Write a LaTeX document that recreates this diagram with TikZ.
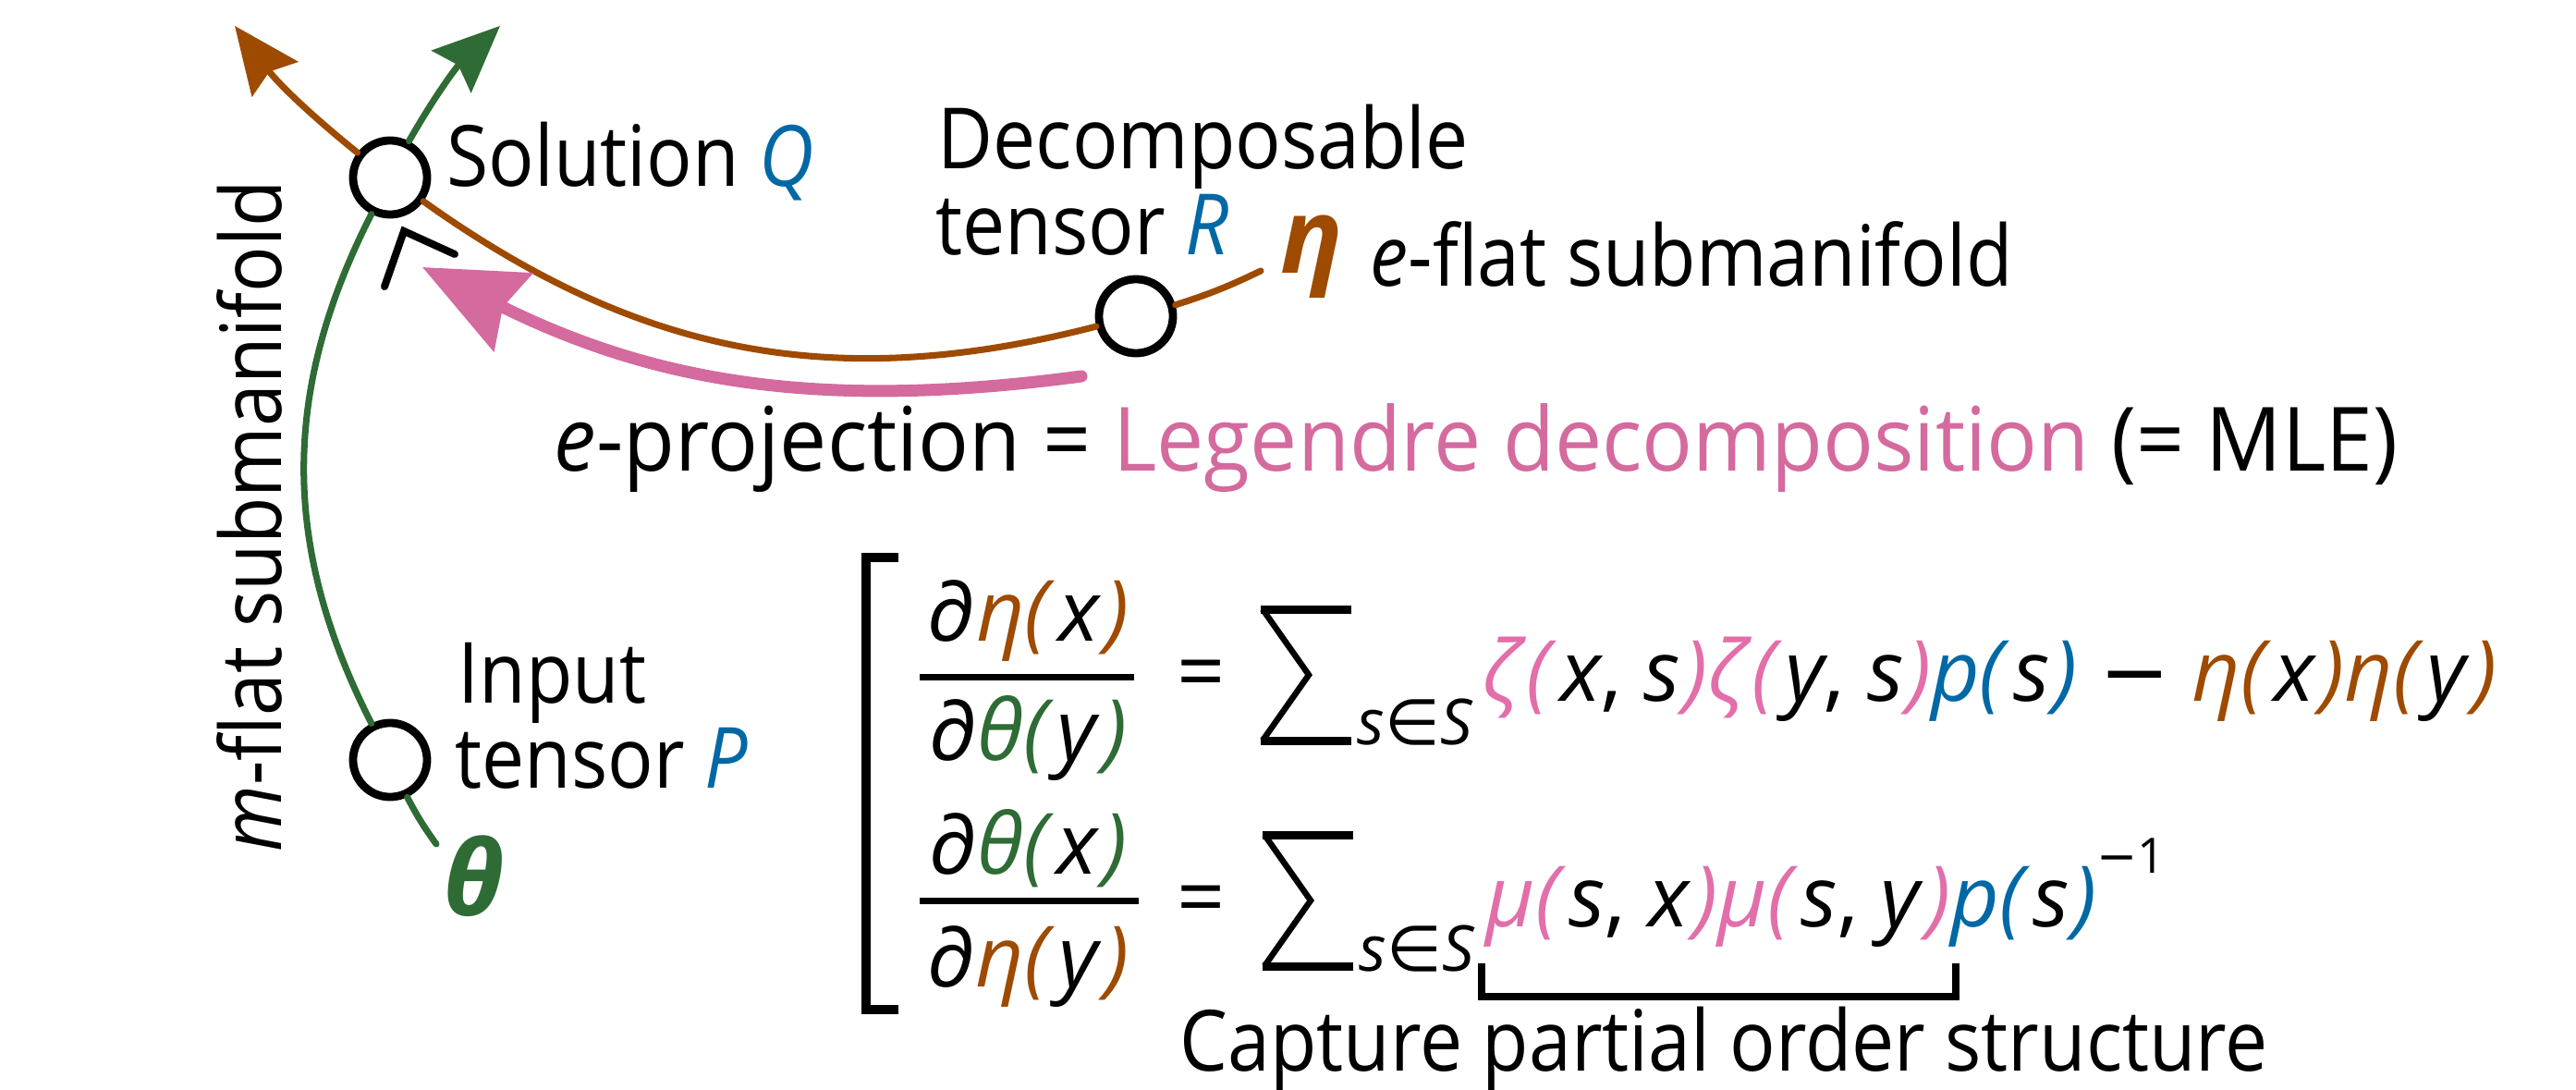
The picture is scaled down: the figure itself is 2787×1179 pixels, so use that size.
\documentclass[tikz,border=0pt]{standalone}
\usepackage{fontspec}
\setmainfont[FakeStretch=0.9]{Open Sans}
\newfontfamily\mathfont{Open Sans}
\newfontfamily\midfont[FakeStretch=0.95]{Open Sans}
\newfontfamily\symf{DejaVu Sans}
\usetikzlibrary{arrows.meta}
\definecolor{cbrown}{HTML}{9E4A00}
\definecolor{cgreen}{HTML}{2E6B35}
\definecolor{cblue}{HTML}{0068A5}
\definecolor{cpink}{HTML}{D46A9E}
\definecolor{cpinkm}{HTML}{E26EAA}
\newcommand\cbr[1]{\textcolor{cbrown}{#1}}
\newcommand\cgr[1]{\textcolor{cgreen}{#1}}
\newcommand\cbl[1]{\textcolor{cblue}{#1}}
\newcommand\cpk[1]{\textcolor{cpinkm}{#1}}
\newcommand\iv[1]{\textit{#1}}
\newcommand\pd{\textit{∂}}
\newcommand\mns{{\symf −}}
% function application with coloured, slightly spaced parentheses
\newcommand\fa[3]{\textcolor{#1}{\iv{#2}\iv{(}}\kern1pt#3\kern1pt\textcolor{#1}{\iv{)}}}
\begin{document}
\begin{tikzpicture}[x=0.01cm,y=0.01cm,
  txt/.style={inner sep=0pt, font=\fontsize{26}{31}\selectfont},
  bigtxt/.style={inner sep=0pt, font=\midfont\fontsize{27.3}{32}\selectfont},
  mth/.style={inner sep=0pt, font=\mathfont\fontsize{26}{31}\selectfont},
  sub/.style={inner sep=0pt, font=\mathfont\fontsize{19.5}{23}\selectfont},
  lbl/.style={inner sep=0pt, font=\mathfont\fontsize{32}{38}\selectfont\bfseries\itshape},
  dot/.style={circle, draw=black, fill=white, line width=2.5pt, minimum size=0.8cm, inner sep=0pt},
  brownline/.style={draw=cbrown, line width=2pt, line cap=round},
  greenline/.style={draw=cgreen, line width=2pt, line cap=round},
  pinkline/.style={draw=cpink, line width=3.7pt, line cap=round},
  smallhead/.style={-{Stealth[length=0.72cm, width=0.62cm, inset=0.1cm]}},
  bighead/.style={-{Stealth[length=1.09cm, width=0.93cm, inset=0.12cm]}},
  sigma/.pic={
    \draw[line width=0.065cm, line join=miter] (2,71) -- (52,0) -- (2,-71);
    \draw[line width=0.09cm] (98,71) -- (0,71);
    \draw[line width=0.09cm] (0,-71) -- (98,-71);
  }]
\useasboundingbox (0,0) rectangle (2787,-1179);

% points on the manifolds
\node[dot] (Q) at (422,-192) {};
\node[dot] (R) at (1229,-342) {};
\node[dot] (P) at (422,-822) {};
\coordinate (btip) at (254,-28);
\coordinate (gtip) at (541,-28);
\coordinate (bend) at (1364,-293);
\coordinate (tend) at (472,-913);
\coordinate (ptail) at (1170,-407);
\coordinate (ptip) at (457,-289);

% e-flat submanifold (brown)
\draw[brownline, smallhead] (Q) to[bend left=7] (btip);
\draw[brownline] (Q) to[bend right=25] (R);
\draw[brownline] (R) to[bend right=4] (bend);

% m-flat submanifold (green)
\draw[greenline] (tend) to[bend left=4] (P);
\draw[greenline] (P) to[bend left=27] (Q);
\draw[greenline, smallhead] (Q) to[bend left=8.5] (gtip);

% e-projection arrow
\draw[pinkline, bighead] (ptail) to[bend left=17] (ptip);

% right-angle mark
\draw[line width=0.08cm, line cap=round, line join=miter] (492,-275) -- (437,-250) -- (416,-310);

% labels
\node[txt, anchor=base west] (solQ) at (483,-202) {Solution \cbl{\iv{Q}}};
\node[txt, anchor=base west] (dec) at (1014,-183) {Decomposable};
\node[txt, anchor=base west] (tensR) at (1012,-275) {tensor \cbl{\iv{R}}};
\node[lbl, anchor=base west, text=cbrown] (eta) at (1385,-295) {η};
\node[txt, anchor=base west] (eflat) at (1482,-310) {\iv{e}-flat submanifold};
\node[txt, anchor=base west] (inp) at (495,-760) {Input};
\node[txt, anchor=base west] (tensP) at (492,-852) {tensor \cbl{\iv{P}}};
\node[lbl, anchor=base west, text=cgreen] (theta) at (479,-990) {θ};
\node[txt, anchor=base west, rotate=90] (mflat) at (304,-922) {\iv{m}-flat submanifold};
\node[bigtxt, anchor=base west] (eproj) at (599,-509) {\iv{e}-projection = \textcolor{cpink}{Legendre decomposition} (= MLE)};

% big bracket
\draw[line width=0.095cm, line join=miter] (972,-603) -- (937,-603) -- (937,-1092) -- (972,-1092);

% row 1
\node[mth, anchor=base] (n1) at (1112,-693) {\pd\fa{cbrown}{η}{\iv{x}}};
\draw[line width=0.07cm] (995,-732) -- (1227,-732);
\node[mth, anchor=base] (d1) at (1112,-822) {\pd\fa{cgreen}{θ}{\iv{y}}};
\node[mth, anchor=base] (eq1) at (1300,-758) {=};
\pic at (1364,-730) {sigma};
\node[sub, anchor=base west] (s1) at (1468,-805) {\iv{s}{\symf ∈}\iv{S}};
\node[mth, anchor=base west] (t1) at (1603,-758) {\fa{cpinkm}{ζ}{\iv{x}, \iv{s}}\fa{cpinkm}{ζ}{\iv{y}, \iv{s}}\fa{cblue}{p}{\iv{s}} \mns{} \fa{cbrown}{η}{\iv{x}}\fa{cbrown}{η}{\iv{y}}};

% row 2
\node[mth, anchor=base] (n2) at (1112,-945) {\pd\fa{cgreen}{θ}{\iv{x}}};
\draw[line width=0.07cm] (995,-974) -- (1232,-974);
\node[mth, anchor=base] (d2) at (1112,-1067) {\pd\fa{cbrown}{η}{\iv{y}}};
\node[mth, anchor=base] (eq2) at (1300,-1002) {=};
\pic at (1366,-974) {sigma};
\node[sub, anchor=base west] (s2) at (1470,-1050) {\iv{s}{\symf ∈}\iv{S}};
\node[mth, anchor=base west] (t2) at (1607,-1002) {\fa{cpinkm}{μ}{\iv{s}, \iv{x}}\fa{cpinkm}{μ}{\iv{s}, \iv{y}}\fa{cblue}{p}{\iv{s}}\raisebox{0.57cm}{\fontsize{15}{18}\selectfont\mns1}};

% underbrace
\draw[line width=0.08cm, line join=miter] (1603,-1042) -- (1603,-1078) -- (2116,-1078) -- (2116,-1042);
\node[txt, anchor=base west] (capt) at (1276,-1158) {Capture partial order structure};
\end{tikzpicture}
\end{document}
